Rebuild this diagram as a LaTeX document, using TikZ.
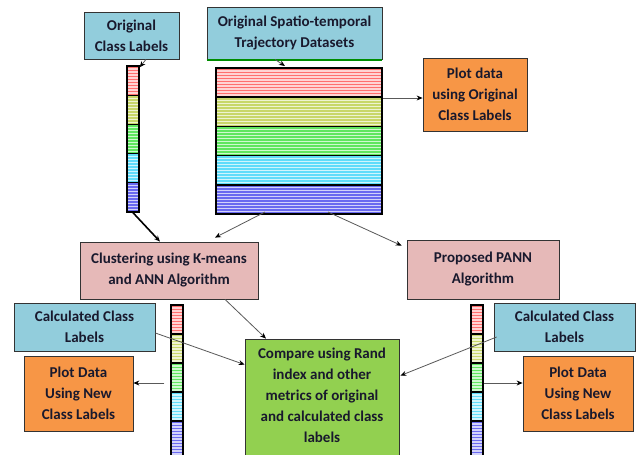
\documentclass[tikz,border=0pt]{standalone}
\usepackage{fontspec}
\setmainfont{Carlito}
\usetikzlibrary{arrows.meta}
\definecolor{boxblue}{RGB}{146,205,220}
\definecolor{boxorange}{RGB}{247,150,70}
\definecolor{boxpink}{RGB}{230,185,184}
\definecolor{boxgreen}{RGB}{146,208,80}
\definecolor{txt}{RGB}{25,25,45}
\definecolor{sred}{RGB}{255,110,110}
\definecolor{syel}{RGB}{200,215,105}
\definecolor{sgrn}{RGB}{95,230,95}
\definecolor{scyn}{RGB}{95,220,250}
\definecolor{sblu}{RGB}{105,105,240}
\newcommand{\stripeseg}[5]{%
  \begin{scope}
    \clip ({#1},{#2}) rectangle ({#3},{#4});
    \fill[#5!30] ({#1},{#2}) rectangle ({#3},{#4});
    \foreach \k in {0,...,14}{\draw[#5, line width=1.7pt] ({#1},{#2+1.5+3*\k}) -- ({#3},{#2+1.5+3*\k});}
  \end{scope}}
\tikzset{
  box/.style={draw=black!80, line width=0.8pt, align=center, inner sep=0pt,
    font=\fontsize{15}{21}\selectfont\bfseries, text=txt},
  conn/.style={draw=black!65, line width=0.8pt, -{Stealth[length=6pt,width=5pt,black]}},
  barbox/.style={draw=black, line width=1.4pt, inner sep=0pt},
  divider/.style={draw=black, line width=1.2pt}
}
\begin{document}
\begin{tikzpicture}[x=1pt,y=-1pt]
\clip (0,0) rectangle (637,455);
\fill[white] (0,0) rectangle (637,455);
% stripes
\foreach \c [count=\i from 0] in {sred,syel,sgrn,scyn,sblu}{
  \pgfmathsetmacro{\ya}{66+29.2*\i}\pgfmathsetmacro{\yb}{66+29.2*(\i+1)}
  \stripeseg{127}{\ya}{139}{\yb}{\c}
  \pgfmathsetmacro{\ya}{68+29.2*\i}\pgfmathsetmacro{\yb}{68+29.2*(\i+1)}
  \stripeseg{216}{\ya}{382}{\yb}{\c}
  \pgfmathsetmacro{\ya}{305+29*\i}\pgfmathsetmacro{\yb}{305+29*(\i+1)+(\i==4)*30}
  \stripeseg{171}{\ya}{183}{\yb}{\c}
  \stripeseg{471}{\ya}{483}{\yb}{\c}
}
\foreach \i in {1,...,4}{
  \draw[divider] (127,{66+29.2*\i}) -- (139,{66+29.2*\i});
  \draw[divider, line width=1.6pt] (216,{68+29.2*\i}) -- (382,{68+29.2*\i});
  \draw[divider] (171,{305+29*\i}) -- (183,{305+29*\i});
  \draw[divider] (471,{305+29*\i}) -- (483,{305+29*\i});
}
\node[barbox, minimum width=12pt, minimum height=146pt] (lbar) at (133,139) {};
\node[barbox, line width=2pt, minimum width=166pt, minimum height=146pt] (data) at (299,141) {};
\node[barbox, minimum width=12pt, minimum height=165pt] (blbar) at (177,387.5) {};
\node[barbox, minimum width=12pt, minimum height=165pt] (brbar) at (477,387.5) {};
% boxes
\node[box, fill=boxblue, minimum width=95pt, minimum height=47pt] (ocl) at (131.5,35.5) {Original\\Class Labels};
\node[box, fill=boxblue, minimum width=175pt, minimum height=52pt] (spa) at (294.5,33) {Original Spatio-temporal\\Trajectory Datasets};
\draw[green!55!black, line width=1.5pt] ([yshift=-0.8pt]spa.south west) -- ([yshift=-0.8pt]spa.south east);
\node[box, fill=boxorange, minimum width=104pt, minimum height=73pt] (pd) at (475,94.5) {Plot data\\using Original\\Class Labels};
\node[box, fill=boxpink, minimum width=178pt, minimum height=57pt] (clu) at (169,270.5) {Clustering using K-means\\and ANN Algorithm};
\node[box, fill=boxpink, minimum width=152pt, minimum height=59pt] (pann) at (483,269.5) {Proposed PANN\\Algorithm};
\node[box, fill=boxblue, minimum width=141pt, minimum height=48pt] (calcL) at (84.5,327) {Calculated Class\\Labels};
\node[box, fill=boxorange, minimum width=109pt, minimum height=75pt] (plotL) at (78.5,393.5) {Plot Data\\Using New\\Class Labels};
\node[box, fill=boxblue, minimum width=141pt, minimum height=48pt] (calcR) at (564.5,327) {Calculated Class\\Labels};
\node[box, fill=boxorange, minimum width=110pt, minimum height=75pt] (plotR) at (578,393.5) {Plot Data\\Using New\\Class Labels};
\node[box, fill=boxgreen, minimum width=154pt, minimum height=134pt] (cmp) at (322,406) {Compare using Rand\\index and other\\metrics of original\\and calculated class\\labels\\\mbox{}};
% connectors
\draw[conn] ([xshift=14.5pt]ocl.south) -- ([yshift=-2pt]lbar.north east);
\draw[conn] ([xshift=-19.5pt]spa.south) -- ([xshift=-14pt,yshift=1pt]data.north);
\draw[conn] ([yshift=43pt]data.east) coordinate (a1) -- (a1 -| pd.west);
\draw[conn, draw=black, line width=1.6pt] (lbar.south) -- ([xshift=-9pt]clu.north);
\draw[conn] ([xshift=-34pt,yshift=3pt]data.south) -- ([xshift=46pt,yshift=4pt]clu.north);
\draw[conn] ([xshift=29pt,yshift=3pt]data.south) -- ([xshift=-5pt,yshift=-6pt]pann.north west);
\draw[conn] ([xshift=56pt]clu.south) -- ([xshift=-56pt]cmp.north);
\draw[conn] ([yshift=-6pt]calcL.east) -- ([yshift=-26pt]cmp.north west);
\draw[conn] ([xshift=-6pt,yshift=4.5pt]blbar.west) coordinate (a2) -- (a2 -| plotL.east);
\draw[conn] ([xshift=3pt,yshift=-10pt]calcR.west) -- ([xshift=1pt,yshift=-37pt]cmp.north east);
\draw[conn] ([yshift=4.5pt]brbar.east) coordinate (a3) -- (a3 -| plotR.west);
\end{tikzpicture}
\end{document}
